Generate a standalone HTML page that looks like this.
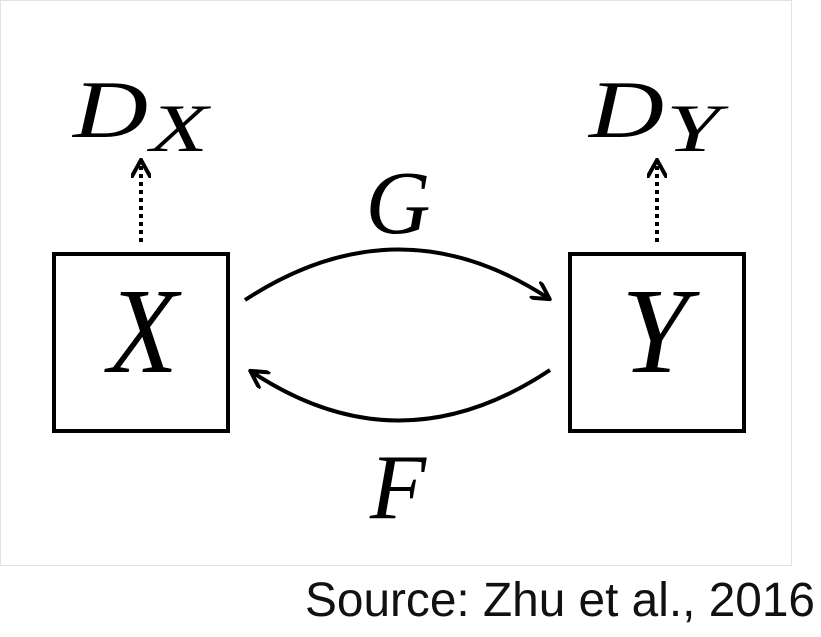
<!DOCTYPE html>
<html><head><meta charset="utf-8"><style>
html,body{margin:0;padding:0;background:#fff;width:821px;height:637px;overflow:hidden}
svg{display:block}
.m{font-family:"Liberation Serif",serif;font-style:italic;fill:#000}
</style></head><body>
<svg width="821" height="637" viewBox="0 0 821 637">
<defs>
<marker id="ah" viewBox="0 0 10 10" refX="8" refY="5" markerWidth="5" markerHeight="5" orient="auto-start-reverse">
<path d="M0,0 L9,5 L0,10" fill="none" stroke="#000" stroke-width="2"/>
</marker>
</defs>
<rect x="0.5" y="0.5" width="791" height="565" fill="#fff" stroke="#e2e2e2" stroke-width="1"/>
<g>
<rect x="54" y="254" width="174" height="177" fill="none" stroke="#000" stroke-width="4"/>
<text x="108" y="372" textLength="70" lengthAdjust="spacingAndGlyphs" class="m" font-size="122">X</text>
</g>
<g>
<rect x="570" y="254" width="174" height="177" fill="none" stroke="#000" stroke-width="4"/>
<text x="655" y="372" text-anchor="middle" class="m" font-size="122">Y</text>
</g>
<g>
<text x="73" y="137" textLength="75" lengthAdjust="spacingAndGlyphs" class="m" font-size="82">D</text>
<text x="150" y="151" textLength="58" lengthAdjust="spacingAndGlyphs" class="m" font-size="68">X</text>
</g>
<g>
<text x="589" y="137" textLength="75" lengthAdjust="spacingAndGlyphs" class="m" font-size="82">D</text>
<text x="666" y="151" textLength="54" lengthAdjust="spacingAndGlyphs" class="m" font-size="68">Y</text>
</g>
<line x1="141" y1="242" x2="141" y2="162" stroke="#000" stroke-width="4" stroke-dasharray="4,4" marker-end="url(#ah)"/>
<line x1="657" y1="242" x2="657" y2="162" stroke="#000" stroke-width="4" stroke-dasharray="4,4" marker-end="url(#ah)"/>
<path d="M245,300 Q398,200 548,298" fill="none" stroke="#000" stroke-width="4" marker-end="url(#ah)"/>
<path d="M550,370 Q400,470 252,372" fill="none" stroke="#000" stroke-width="4" marker-end="url(#ah)"/>
<text x="398" y="233" text-anchor="middle" class="m" font-size="90">G</text>
<text x="398" y="518" text-anchor="middle" class="m" font-size="92">F</text>
<text x="305" y="616" textLength="510" lengthAdjust="spacingAndGlyphs" font-family="Liberation Sans, sans-serif" font-size="48" fill="#111">Source: Zhu et al., 2016</text>
</svg>
</body></html>
